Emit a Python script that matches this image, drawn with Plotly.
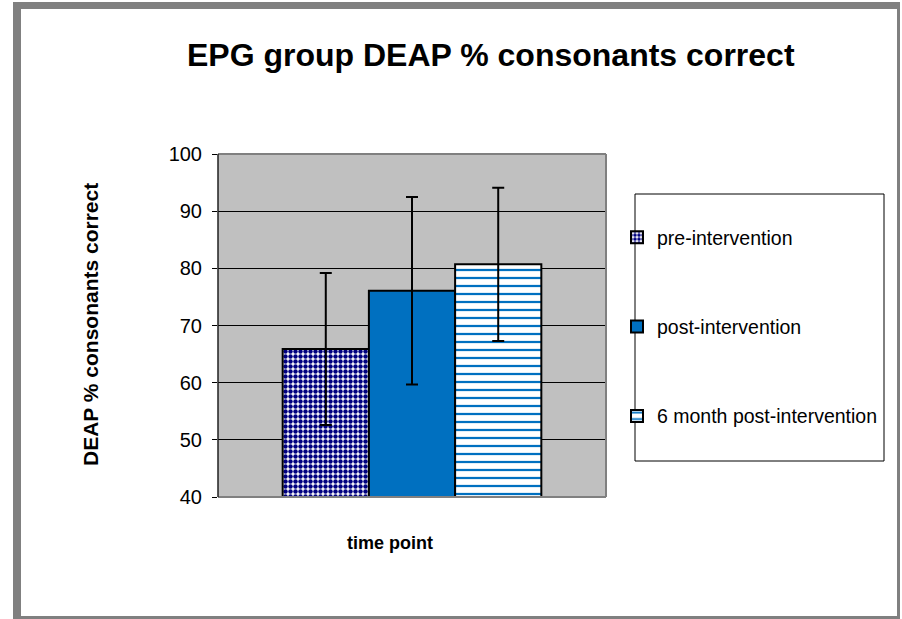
import plotly.graph_objects as go

# ---- data ----
series_names = ["pre-intervention", "post-intervention", "6 month post-intervention"]
category = [""]
means = [65.9, 76.1, 80.7]
errors = [13.3, 16.4, 13.4]
y_ticks = [40, 50, 60, 70, 80, 90, 100]

title_text = "EPG group DEAP % consonants correct"
y_title = "DEAP % consonants correct"
x_title = "time point"

# ---- layout geometry (pixels) ----
W, H = 902, 619
L, R, T, B = 218, 606, 154, 497
PW, PH = R - L, B - T

def px(x):
    return (x - L) / PW

def py(y):
    return (B - y) / PH

FONT = "Arial, Liberation Sans, sans-serif"
BLUE = "#0070C0"
NAVY = "#000080"

styles = [
    dict(color="white", pattern=dict(shape=".", fgcolor=NAVY, bgcolor="white", size=5, solidity=0.62,
                                     fillmode="overlay", fgopacity=1)),
    dict(color=BLUE),
    dict(color="white", pattern=dict(shape="-", fgcolor=BLUE, bgcolor="white", size=8, solidity=0.28,
                                     fillmode="overlay", fgopacity=1)),
]

fig = go.Figure()
for i, name in enumerate(series_names):
    fig.add_trace(go.Bar(
        x=category, y=[means[i]], name=name,
        legendgroup=name,
        marker=dict(line=dict(color="black", width=2), **styles[i]),
        error_y=dict(type="data", array=[errors[i]], color="black", thickness=2, width=6),
    ))

shapes = []
frame_gray = "#808080"
# outer frame strips
for (x0, y0, x1, y1) in [(13, 2, 21, 619), (13, 2, 900, 9), (897, 2, 900, 619), (13, 616, 900, 619)]:
    shapes.append(dict(type="rect", xref="paper", yref="paper", x0=px(x0), x1=px(x1), y0=py(y0), y1=py(y1),
                       fillcolor=frame_gray, line=dict(width=0), layer="above"))
# plot area border
for (x0, y0, x1, y1, c, w) in [(L, T, R, T, frame_gray, 2), (R, T, R, B, frame_gray, 2),
                               (L, B, R, B, frame_gray, 2), (L, T, L, B, "#202020", 1.5)]:
    shapes.append(dict(type="line", xref="paper", yref="paper", x0=px(x0), x1=px(x1), y0=py(y0), y1=py(y1),
                       line=dict(color=c, width=w), layer="above"))
# legend box
shapes.append(dict(type="rect", xref="paper", yref="paper", x0=px(635), x1=px(884), y0=py(194), y1=py(461),
                   line=dict(color="black", width=1), fillcolor="rgba(0,0,0,0)", layer="above"))

annotations = [
    dict(text=f"<b>{title_text}</b>", x=px(491), y=py(55), xref="paper", yref="paper",
         showarrow=False, font=dict(family=FONT, size=32, color="black"), xanchor="center", yanchor="middle"),
    dict(text=f"<b>{y_title}</b>", x=px(90), y=py(325), xref="paper", yref="paper", textangle=-90,
         showarrow=False, font=dict(family=FONT, size=21, color="black"), xanchor="center", yanchor="middle"),
    dict(text=f"<b>{x_title}</b>", x=px(390), y=py(543), xref="paper", yref="paper",
         showarrow=False, font=dict(family=FONT, size=18, color="black"), xanchor="center", yanchor="middle"),
]

fig.update_layout(
    width=W, height=H,
    margin=dict(l=L, r=W - R, t=T, b=H - B, pad=0),
    paper_bgcolor="white", plot_bgcolor="#C0C0C0",
    barmode="group", bargap=1/3, bargroupgap=0,
    showlegend=True,
    legend=dict(x=px(617), y=py(218), xanchor="left", yanchor="top",
                bgcolor="rgba(0,0,0,0)", borderwidth=0,
                font=dict(family=FONT, size=19.5, color="black"),
                tracegroupgap=61, traceorder="grouped"),
    shapes=shapes, annotations=annotations,
    font=dict(family=FONT, color="black"),
)
fig.update_xaxes(range=[-0.5, 0.5], showticklabels=False, showgrid=False, zeroline=False, showline=False, ticks="")
fig.update_yaxes(range=[40, 100], tickvals=y_ticks, ticks="outside", ticklen=5, tickcolor="black", tickwidth=1,
                 showgrid=True, gridcolor="black", gridwidth=1, zeroline=False, showline=False,
                 ticklabelstandoff=6,
                 tickfont=dict(family=FONT, size=20, color="black"))

fig.write_html("out.html", config={"displayModeBar": False},
               post_script="document.body.style.margin='0';")
